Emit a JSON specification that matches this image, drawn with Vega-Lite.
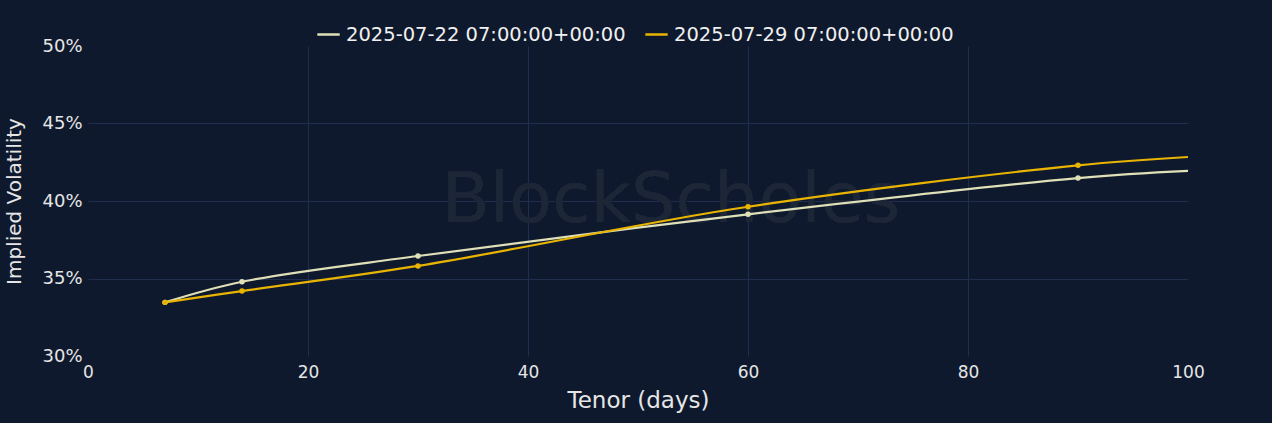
{
  "$schema": "https://vega.github.io/schema/vega-lite/v6.json",
  "width": 1100,
  "height": 310,
  "autosize": "none",
  "padding": {"left": 88, "top": 46, "right": 84, "bottom": 67},
  "background": "#0f192d",
  "config": {
    "view": {"stroke": null},
    "font": "DejaVu Sans",
    "axis": {"labelColor": "#e6e6e6", "titleColor": "#e6e6e6", "gridColor": "#1e2d50", "domain": false, "ticks": false, "labelFont": "DejaVu Sans", "titleFont": "DejaVu Sans", "titleFontWeight": "normal", "labelFlush": false}
  },
  "data": {
    "values": [
      {"date": "2025-07-22 07:00:00+00:00", "tenor": 7, "iv": 0.3346, "observed": true},
      {"date": "2025-07-22 07:00:00+00:00", "tenor": 14, "iv": 0.3479, "observed": true},
      {"date": "2025-07-22 07:00:00+00:00", "tenor": 30, "iv": 0.3645, "observed": true},
      {"date": "2025-07-22 07:00:00+00:00", "tenor": 60, "iv": 0.3914, "observed": true},
      {"date": "2025-07-22 07:00:00+00:00", "tenor": 90, "iv": 0.4148, "observed": true},
      {"date": "2025-07-22 07:00:00+00:00", "tenor": 100, "iv": 0.4194, "observed": false},
      {"date": "2025-07-29 07:00:00+00:00", "tenor": 7, "iv": 0.3346, "observed": true},
      {"date": "2025-07-29 07:00:00+00:00", "tenor": 14, "iv": 0.3419, "observed": true},
      {"date": "2025-07-29 07:00:00+00:00", "tenor": 30, "iv": 0.3581, "observed": true},
      {"date": "2025-07-29 07:00:00+00:00", "tenor": 60, "iv": 0.3963, "observed": true},
      {"date": "2025-07-29 07:00:00+00:00", "tenor": 90, "iv": 0.4230, "observed": true},
      {"date": "2025-07-29 07:00:00+00:00", "tenor": 100, "iv": 0.4284, "observed": false}
    ]
  },
  "encoding": {
    "x": {"field": "tenor", "type": "quantitative", "scale": {"domain": [0, 100], "nice": false},
      "axis": {"title": "Tenor (days)", "values": [0, 20, 40, 60, 80, 100], "labelFontSize": 17, "titleFontSize": 23, "labelPadding": 8, "titlePadding": 9,
        "gridOpacity": {"condition": {"test": "datum.value == 0 || datum.value == 100", "value": 0}, "value": 1}}},
    "y": {"field": "iv", "type": "quantitative", "scale": {"domain": [0.3, 0.5], "nice": false, "zero": false},
      "axis": {"title": "Implied Volatility", "values": [0.3, 0.35, 0.4, 0.45, 0.5], "format": ".0%", "labelFontSize": 18, "titleFontSize": 20, "labelPadding": 6, "titlePadding": 17,
        "gridOpacity": {"condition": {"test": "datum.value < 0.31 || datum.value > 0.49", "value": 0}, "value": 1}}},
    "color": {"field": "date", "type": "nominal",
      "scale": {"domain": ["2025-07-22 07:00:00+00:00", "2025-07-29 07:00:00+00:00"], "range": ["#dfe0b8", "#e8b400"]},
      "legend": {"title": null, "orient": "none", "legendX": 228, "legendY": -24, "direction": "horizontal", "labelColor": "#f0f0f0", "labelFontSize": 19.5, "labelFont": "DejaVu Sans", "labelLimit": 0, "symbolType": "stroke", "symbolStrokeWidth": 2.5, "symbolSize": 500, "columnPadding": 14, "labelOffset": 5}}
  },
  "layer": [
    {
      "mark": {"type": "text", "fontSize": 70, "fontWeight": "normal", "font": "DejaVu Sans"},
      "encoding": {"x": {"datum": 53}, "y": {"datum": 0.40}, "text": {"value": "BlockScholes"}, "color": {"value": "#1c2637"}}
    },
    {
      "mark": {"type": "line", "interpolate": "catmull-rom", "strokeWidth": 2.2}
    },
    {
      "transform": [{"filter": "datum.observed"}],
      "mark": {"type": "point", "filled": true, "size": 30, "opacity": 1}
    }
  ]
}
